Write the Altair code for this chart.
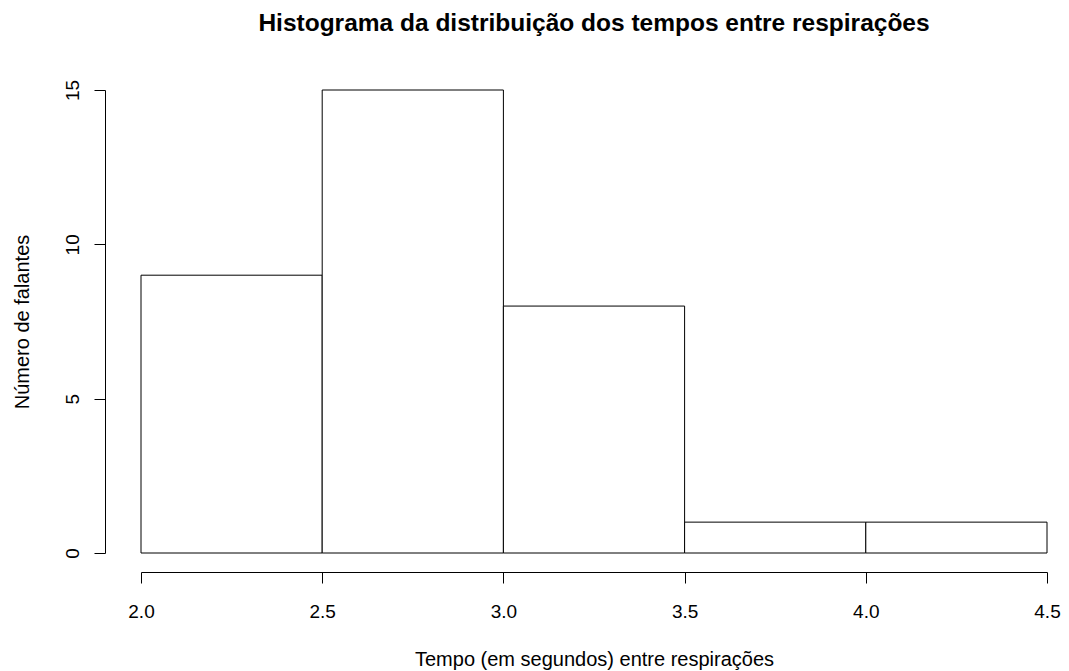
import altair as alt
import pandas as pd

bin_start = [2.0, 2.5, 3.0, 3.5, 4.0]
bin_end = [2.5, 3.0, 3.5, 4.0, 4.5]
counts = [9, 15, 8, 1, 1]
x_ticks = [2.0, 2.5, 3.0, 3.5, 4.0, 4.5]
y_ticks = [0, 5, 10, 15]

df = pd.DataFrame({"start": bin_start, "end": bin_end, "count": counts})

FONT = "Liberation Sans"

chart = alt.Chart(df).mark_rect(
    fill="white", stroke="black", strokeWidth=1
).encode(
    x=alt.X("start:Q",
            scale=alt.Scale(domain=[2.0, 4.5], nice=False, zero=False),
            axis=alt.Axis(values=x_ticks, format=".1f", title="Tempo (em segundos) entre respirações",
                          offset=19, tickSize=11, labelPadding=19, titlePadding=28,
                          labelFlush=False, grid=False)),
    x2="end:Q",
    y=alt.Y("count:Q",
            scale=alt.Scale(domain=[0, 15], nice=False),
            axis=alt.Axis(values=y_ticks, title="Número de falantes",
                          offset=36, tickSize=11, labelAngle=270, labelAlign="center",
                          labelBaseline="bottom", labelPadding=12, titlePadding=31,
                          labelFlush=False, grid=False)),
    y2=alt.datum(0),
).properties(
    width=906,
    height=463,
    autosize=alt.AutoSizeParams(type="none"),
    padding={"left": 133, "top": 82, "right": 14, "bottom": 118},
    title=alt.TitleParams(
        "Histograma da distribuição dos tempos entre respirações",
        fontSize=24.5, font=FONT, fontWeight="bold", color="black",
        anchor="middle", offset=43,
    ),
).configure_view(stroke=None).configure_axis(
    domainColor="black", tickColor="black", labelColor="black", titleColor="black",
    labelFont=FONT, titleFont=FONT, labelFontSize=19, titleFontSize=20,
    titleFontWeight="normal", domainWidth=1, tickWidth=1,
)

chart.save("out.html", embed_options={"renderer": "svg", "actions": False})
